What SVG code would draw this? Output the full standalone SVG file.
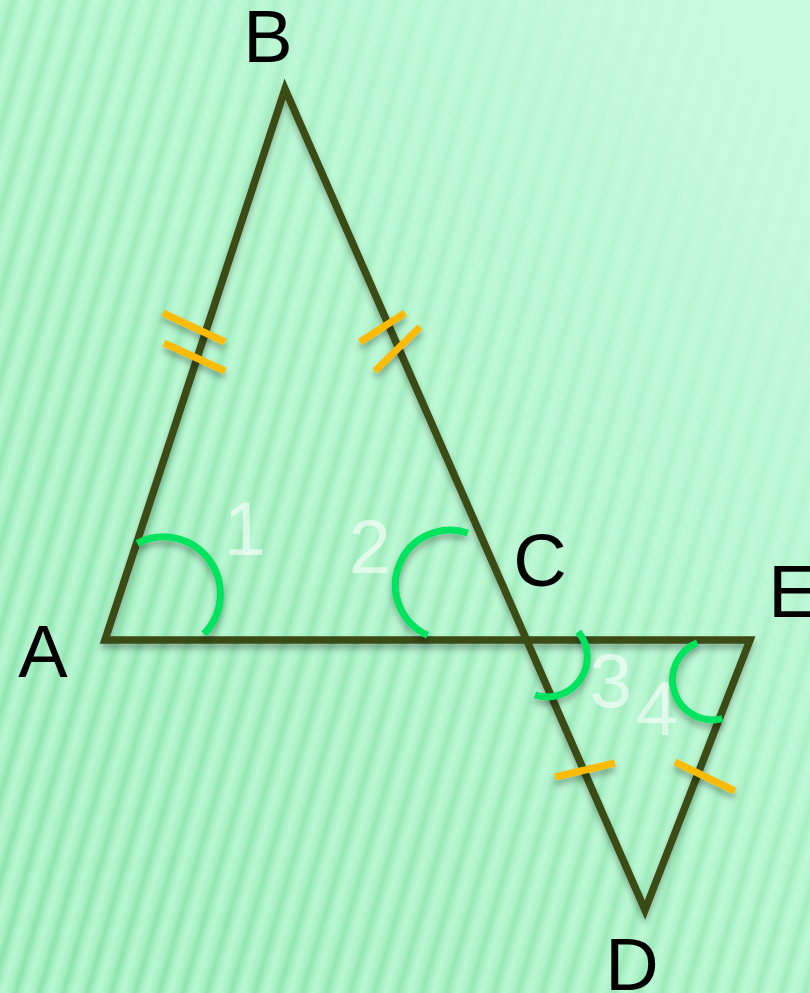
<svg xmlns="http://www.w3.org/2000/svg" width="810" height="993" viewBox="0 0 810 993">
<defs>
<linearGradient id="bg" x1="1" y1="0" x2="0" y2="1">
<stop offset="0" stop-color="#c9fcde"/>
<stop offset="0.5" stop-color="#b8f7d2"/>
<stop offset="1" stop-color="#94eab8"/>
</linearGradient>
<linearGradient id="stripeG" x1="0" y1="0" x2="1" y2="0">
<stop offset="0" stop-color="#c2fad8"/>
<stop offset="0.3" stop-color="#aef2ca"/>
<stop offset="0.55" stop-color="#88e0aa"/>
<stop offset="0.8" stop-color="#aef2ca"/>
<stop offset="1" stop-color="#c2fad8"/>
</linearGradient>
<pattern id="stripes" width="23" height="40" patternUnits="userSpaceOnUse" patternTransform="rotate(16)">
<rect width="23" height="40" fill="url(#stripeG)"/>
</pattern>
<linearGradient id="fade" x1="0" y1="1" x2="1" y2="0">
<stop offset="0" stop-color="#fff" stop-opacity="0.8"/>
<stop offset="0.5" stop-color="#fff" stop-opacity="0.5"/>
<stop offset="0.85" stop-color="#fff" stop-opacity="0.05"/>
<stop offset="1" stop-color="#fff" stop-opacity="0"/>
</linearGradient>
<mask id="m">
<rect width="810" height="993" fill="url(#fade)"/>
</mask>
<filter id="sh" x="-20%" y="-20%" width="140%" height="140%">
<feDropShadow dx="0" dy="5" stdDeviation="3" flood-color="#000" flood-opacity="0.3"/>
</filter>
<style>
.ln{fill:none;stroke:#3a4c17;stroke-width:7.5;stroke-linejoin:miter;stroke-miterlimit:10}
.tk{stroke:#ffbb00;stroke-width:7;fill:none}
.arc{fill:none;stroke:#00e35f;stroke-width:7}
.lbl{font-family:"Liberation Sans",Arial,sans-serif;font-size:74px;fill:#000;text-anchor:middle}
.num{font-family:"Liberation Sans",Arial,sans-serif;font-size:76px;fill:#ffffff;fill-opacity:0.6;text-anchor:middle}
</style>
</defs>
<rect width="810" height="993" fill="url(#bg)"/>
<rect width="810" height="993" fill="url(#stripes)" mask="url(#m)"/>

<g id="connectors" filter="url(#sh)">
<path class="ln" d="M105,640 L285,89 L645,910 L750,640 Z"/>
</g>

<g id="ticks" filter="url(#sh)">
<line class="tk" x1="163" y1="313" x2="225" y2="342"/>
<line class="tk" x1="164" y1="343" x2="225" y2="371"/>
<line class="tk" x1="360" y1="342" x2="405" y2="313"/>
<line class="tk" x1="375" y1="371" x2="420" y2="327"/>
<line class="tk" x1="555" y1="777" x2="615" y2="763"/>
<line class="tk" x1="675" y1="762" x2="735" y2="791"/>
</g>

<g id="angles" filter="url(#sh)">
<path id="angle1" class="arc" d="M137.3,543.3 A57,57 0 0 1 204,634"/>
<path id="angle2" class="arc" d="M467.9,533 A55,55 0 0 0 427.6,635.2"/>
<path id="angle3" class="arc" d="M578.3,631.7 A40,40 0 0 1 535,695"/>
<path id="angle4" class="arc" d="M697.4,642.8 A40,40 0 0 0 722.4,718.6"/>
</g>

<g id="numbers">
<text class="num" x="245" y="555">1</text>
<text class="num" x="370" y="573">2</text>
<text class="num" x="611" y="707">3</text>
<text class="num" x="657" y="735">4</text>
</g>

<g id="node-A"><text class="lbl" x="43" y="677">A</text></g>
<g id="node-B"><text class="lbl" x="268" y="62">B</text></g>
<g id="node-C"><text class="lbl" x="540" y="586">C</text></g>
<g id="node-E"><text class="lbl" x="793" y="617">E</text></g>
<g id="node-D"><text class="lbl" x="632" y="990">D</text></g>
</svg>
